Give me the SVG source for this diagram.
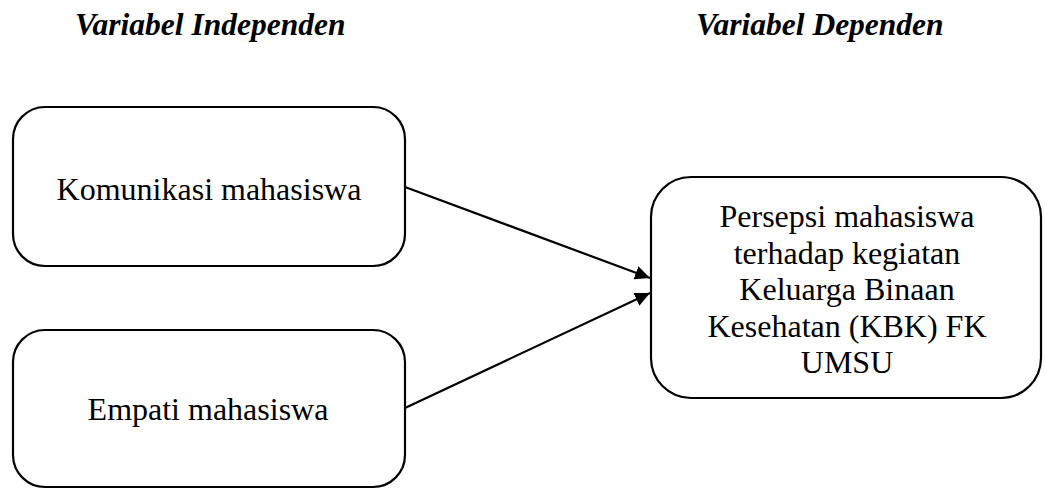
<svg xmlns="http://www.w3.org/2000/svg" width="1045" height="489" viewBox="0 0 1045 489">
<style>
.box{fill:#fff;stroke:#000;stroke-width:2.2}
.t{font-family:"Liberation Serif","Times New Roman",serif;font-size:32px;fill:#000;text-anchor:middle}
.h{font-family:"Liberation Serif","Times New Roman",serif;font-size:31.5px;font-weight:bold;font-style:italic;fill:#000}
.c{stroke:#000;stroke-width:2.2;fill:none}
</style>
<defs>
<marker id="ah" markerUnits="userSpaceOnUse" markerWidth="16" markerHeight="14" refX="15" refY="7" orient="auto">
<path d="M0,0 L15,7 L0,14 Z" fill="#000"/>
</marker>
</defs>
<rect width="1045" height="489" fill="#fff"/>
<g id="headers">
<text class="h" x="75" y="35">Variabel Independen</text>
<text class="h" x="696" y="35">Variabel Dependen</text>
</g>
<g id="node-komunikasi">
<rect class="box" x="13" y="107" width="392" height="159" rx="32" ry="32"/>
<text class="t" x="209" y="200">Komunikasi mahasiswa</text>
</g>
<g id="node-empati">
<rect class="box" x="13" y="330" width="392" height="157" rx="32" ry="32"/>
<text class="t" x="208" y="420">Empati mahasiswa</text>
</g>
<g id="node-persepsi">
<rect class="box" x="651" y="177" width="390" height="221" rx="40" ry="40"/>
<text class="t" x="847" y="227">Persepsi mahasiswa</text>
<text class="t" x="847" y="264">terhadap kegiatan</text>
<text class="t" x="847" y="300">Keluarga Binaan</text>
<text class="t" x="847" y="337">Kesehatan (KBK) FK</text>
<text class="t" x="847" y="373">UMSU</text>
</g>
<g id="connectors">
<line class="c" x1="405" y1="187" x2="650" y2="278" marker-end="url(#ah)"/>
<line class="c" x1="405" y1="408" x2="650" y2="293" marker-end="url(#ah)"/>
</g>
</svg>
